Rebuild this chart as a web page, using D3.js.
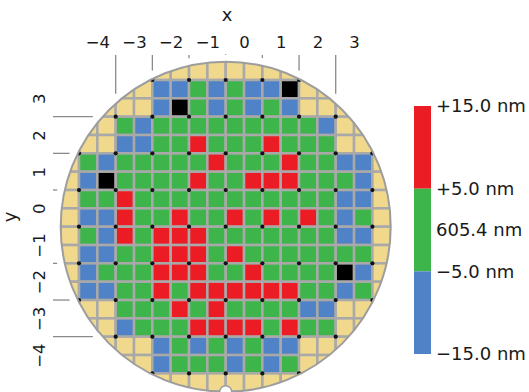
<!DOCTYPE html>
<html><head><meta charset="utf-8">
<script src="https://cdn.jsdelivr.net/npm/d3@7"></script>
<style>
html,body{margin:0;padding:0;background:#fff;}
svg{display:block;font-family:"DejaVu Sans",Verdana,sans-serif;}
</style></head><body>
<svg id="chart" width="529" height="392"></svg>
<script>
// Axis labels (die index) along x and y
const xTicks = [-4, -3, -2, -1, 0, 1, 2, 3];
const yTicks = [3, 2, 1, 0, -1, -2, -3, -4];

// Thickness deviation class for every measurement site, top row first.
// R: above +5 nm, G: within ±5 nm, B: below −5 nm, K: failed site, .: edge exclusion
const siteRows = [
  "..................",
  ".....BBGBGBBK.....",
  ".....BKGBGBGB.....",
  "...GBGGGGGGGGGB...",
  "...BBGGRGGGRGGG...",
  ".GBGGGGGRGGGRGGBB.",
  ".BKGGGGRGGRRRGGGB.",
  ".GGRGGGGGGGGGGGBB.",
  ".BBRGGRGGRGRGRGBG.",
  ".GBRGRRRGGGGGGGBB.",
  ".BBGGRRRGRGGGGGGG.",
  ".BGGGRRRGGRGGGGKB.",
  ".BBGGRGRRRRRRGGBG.",
  "...GGGRGRGGGGBB...",
  "...BGGGRRRRGRGG...",
  ".....BGBGBGBB.....",
  ".....BGGGBGBG.....",
  ".................."
];

// Colour legend: band limits (nm from nominal) and their labels
const legendStops  = [15, 5, 0, -5, -15];
const legendLabels = ["+15.0 nm", "+5.0 nm", "605.4 nm", "\u22125.0 nm", "\u221215.0 nm"];
const legendBands  = [
  {from: 5,   to: 15, code: "R"},
  {from: -5,  to: 5,  code: "G"},
  {from: -15, to: -5, code: "B"}
];

const color = d3.scaleOrdinal()
  .domain(["R", "G", "B", "K", "."])
  .range(["#ec1c24", "#3db54a", "#4f82c6", "#000000", "#f0d98c"]);

const svg = d3.select("#chart");

// wafer coordinate system: one unit = one die, wafer spans ±4.5 dies
const cx = 225.7, cy = 226.7, unit = 36.67;
const x = d3.scaleLinear().domain([-4.5, 4.5]).range([cx - 4.5 * unit, cx + 4.5 * unit]);
const y = d3.scaleLinear().domain([-4.5, 4.5]).range([cy + 4.5 * unit, cy - 4.5 * unit]);
const R = x(4.5) - x(0);
const clearR = R + 7.5;   // tick guides stop short of the wafer rim

const tickColor = "#8a8a8a";

// x guides at die boundaries
const xBounds = d3.range(-3, 4);
svg.append("g").selectAll("line").data(xBounds).join("line")
  .attr("x1", d => x(d)).attr("x2", d => x(d))
  .attr("y1", 55)
  .attr("y2", d => cy - Math.sqrt(clearR * clearR - Math.pow(x(d) - cx, 2)))
  .attr("stroke", tickColor).attr("stroke-width", 1.3);

// y guides at die boundaries
const yBounds = d3.range(-3, 4);
svg.append("g").selectAll("line").data(yBounds).join("line")
  .attr("y1", d => y(d)).attr("y2", d => y(d))
  .attr("x1", 53)
  .attr("x2", d => cx - Math.sqrt(clearR * clearR - Math.pow(y(d) - cy, 2)))
  .attr("stroke", tickColor).attr("stroke-width", 1.3);

// axis labels, centred on each die
const fmt = d => d < 0 ? "\u2212" + Math.abs(d) : String(d);
const xAxis = d3.axisTop(d3.scaleLinear().domain(x.domain().map(d => d - 0.5)).range(x.range()))
  .tickValues(xTicks).tickFormat(fmt).tickSize(0).tickPadding(0);
const gx = svg.append("g").attr("transform", "translate(0,48)").call(xAxis);
gx.select(".domain").remove();
gx.selectAll("text").attr("font-size", 16.5).attr("fill", "#1a1a1a")
  .attr("font-family", "DejaVu Sans").attr("dy", 0);

const yAxis = d3.axisLeft(d3.scaleLinear().domain(y.domain().map(d => d - 0.5)).range(y.range()))
  .tickValues(yTicks).tickFormat(fmt).tickSize(0).tickPadding(0);
const gy = svg.append("g").attr("transform", "translate(45,0)").call(yAxis);
gy.select(".domain").remove();
gy.selectAll(".tick text")
  .attr("font-size", 16.5).attr("fill", "#1a1a1a").attr("font-family", "DejaVu Sans")
  .attr("x", 0).attr("dy", 0)
  .attr("text-anchor", "middle")
  .attr("transform", "rotate(-90)");

svg.append("text").attr("x", 227).attr("y", 21)
  .attr("text-anchor", "middle").attr("font-size", 18).attr("fill", "#1a1a1a").text("x");
svg.append("text").attr("transform", "translate(16,217) rotate(-90)")
  .attr("text-anchor", "middle").attr("font-size", 18).attr("fill", "#1a1a1a").text("y");

// wafer
svg.append("clipPath").attr("id", "wafer-clip")
  .append("circle").attr("cx", cx).attr("cy", cy).attr("r", R);

const sites = [];
siteRows.forEach((row, r) => {
  row.split("").forEach((code, c) => {
    sites.push({u: -4.5 + 0.5 * c, v: 4.5 - 0.5 * r, code});
  });
});

const wafer = svg.append("g").attr("clip-path", "url(#wafer-clip)");
wafer.append("circle").attr("cx", cx).attr("cy", cy).attr("r", R).attr("fill", color("."));
wafer.selectAll("rect").data(sites).join("rect")
  .attr("x", d => x(d.u))
  .attr("y", d => y(d.v))
  .attr("width", d => x(d.u + 0.5) - x(d.u))
  .attr("height", d => y(d.v - 0.5) - y(d.v))
  .attr("fill", d => color(d.code))
  .attr("stroke", "#a9a9a9")
  .attr("stroke-width", 2.5);

// corner markers of every die on the map
const corners = new Map();
for (let r = 1; r < siteRows.length - 1; r += 2) {
  for (let c = 1; c < siteRows[r].length - 1; c += 2) {
    if (siteRows[r][c] === ".") continue;
    const u0 = -4.5 + 0.5 * c, v0 = 4.5 - 0.5 * r;
    [[u0, v0], [u0 + 1, v0], [u0, v0 - 1], [u0 + 1, v0 - 1]].forEach(([u, v]) => {
      corners.set(u + "," + v, {u, v});
    });
  }
}
wafer.selectAll("circle.corner").data([...corners.values()]).join("circle")
  .attr("class", "corner")
  .attr("cx", d => x(d.u)).attr("cy", d => y(d.v)).attr("r", 2.1)
  .attr("fill", "#111");

svg.append("circle").attr("cx", cx).attr("cy", cy).attr("r", R)
  .attr("fill", "none").attr("stroke", "#9d9d9d").attr("stroke-width", 2);

// orientation notch
svg.append("circle").attr("cx", x(0)).attr("cy", y(-4.5)).attr("r", 6)
  .attr("fill", "#fff").attr("stroke", "#9d9d9d").attr("stroke-width", 1.5);

// legend
const ly = d3.scaleLinear().domain([-15, 15]).range([354, 106]);
const legend = svg.append("g");
legend.selectAll("rect").data(legendBands).join("rect")
  .attr("x", 414).attr("width", 17)
  .attr("y", d => ly(d.to)).attr("height", d => ly(d.from) - ly(d.to))
  .attr("fill", d => color(d.code));
legend.selectAll("text").data(legendStops).join("text")
  .attr("x", 436).attr("y", d => ly(d)).attr("dy", "0.36em")
  .attr("font-size", 18).attr("fill", "#1a1a1a")
  .text((d, i) => legendLabels[i]);
</script>
</body></html>
